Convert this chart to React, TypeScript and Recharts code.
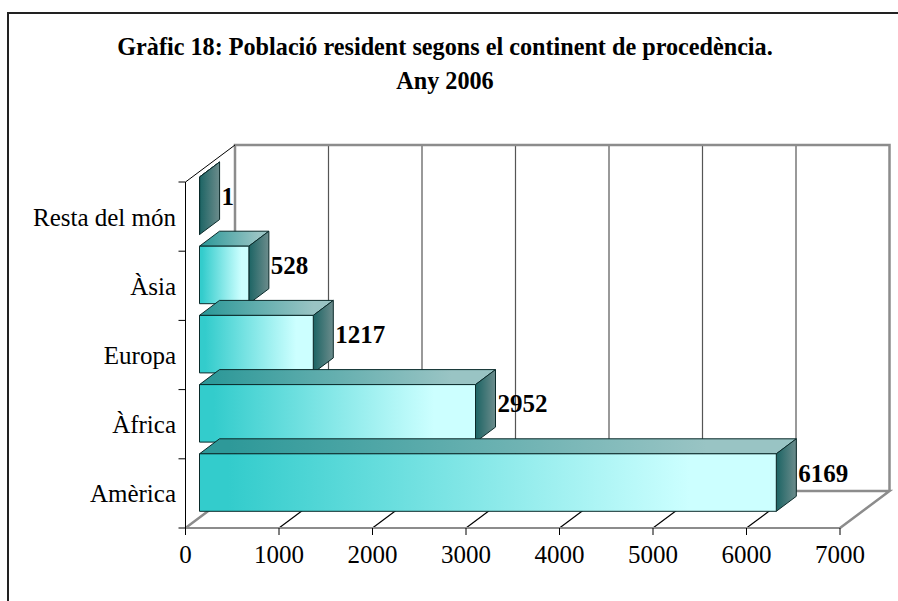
import { BarChart, Bar, XAxis, YAxis, CartesianGrid, LabelList, ReferenceArea } from "recharts"

const categories = ["Resta del món", "Àsia", "Europa", "Àfrica", "Amèrica"]
const values = [1, 528, 1217, 2952, 6169]
const xTicks = [0, 1000, 2000, 3000, 4000, 5000, 6000, 7000]
const titleLines = ["Gràfic 18: Població resident segons el continent de procedència.", "Any 2006"]

const chartData = categories.map((name, i) => ({ name, value: values[i] }))

const FONT = "'Liberation Serif', 'Times New Roman', serif"
const FONT_SIZE = 25
// fake 3D offsets: how far the back wall sits from the front, and the bars inside that
const DEPTH_X = 49.5
const DEPTH_Y = 37
const BAR_SHIFT_X = 14
const BAR_SHIFT_Y = 11
const BAR_DEPTH_X = 20
const BAR_DEPTH_Y = 15
const WALL_GREY = "#8c8c8c"

// bar with a top and a side face
function Bar3D({ x, y, width, height }: any) {
  const left = x + BAR_SHIFT_X
  const top = y - BAR_SHIFT_Y
  const right = left + width
  const bottom = top + height
  const dx = BAR_DEPTH_X
  const dy = BAR_DEPTH_Y
  return (
    <g stroke="#0a2a2a" strokeWidth={1} strokeLinejoin="round">
      <polygon
        points={`${left},${top} ${left + dx},${top - dy} ${right + dx},${top - dy} ${right},${top}`}
        fill="url(#topFace)"
      />
      <polygon
        points={`${right},${top} ${right + dx},${top - dy} ${right + dx},${bottom - dy} ${right},${bottom}`}
        fill="url(#sideFace)"
      />
      <rect x={left} y={top} width={width} height={height} fill="url(#frontFace)" />
    </g>
  )
}

// back wall and floor edges
function Walls({ x, y, width, height }: any) {
  const right = x + width
  const bottom = y + height
  return (
    <g fill="none">
      <path
        d={`M${x},${bottom} L${x + DEPTH_X},${bottom - DEPTH_Y} L${right + DEPTH_X},${bottom - DEPTH_Y} L${right},${bottom}
            M${x + DEPTH_X},${bottom - DEPTH_Y} L${x + DEPTH_X},${y - DEPTH_Y} L${right + DEPTH_X},${y - DEPTH_Y} L${right + DEPTH_X},${bottom - DEPTH_Y}`}
        stroke={WALL_GREY}
        strokeWidth={2.5}
      />
      <line x1={x} y1={y} x2={x + DEPTH_X} y2={y - DEPTH_Y} stroke="#000" strokeWidth={1} />
      <line x1={x} y1={y} x2={x} y2={bottom} stroke="#000" strokeWidth={1} />
    </g>
  )
}

// wall line plus the thin diagonal on the floor
function GridLine({ x1, y1, y2, index }: any) {
  if (index === 0 || index === xTicks.length - 1) return <g key={index} />
  return (
    <g key={index} stroke="#555" strokeWidth={1.2}>
      <line x1={x1 + DEPTH_X} y1={y1 - DEPTH_Y} x2={x1 + DEPTH_X} y2={y2 - DEPTH_Y} />
      <line x1={x1} y1={y2} x2={x1 + DEPTH_X} y2={y2 - DEPTH_Y} stroke="#000" />
    </g>
  )
}

// category label in the middle of the band, tick marks on the band edges
function CategoryTick({ x, y, payload, index }: any) {
  const band = 346 / categories.length
  return (
    <g>
      <text x={x - 9.5} y={y + 9} textAnchor="end" fontFamily={FONT} fontSize={FONT_SIZE} fill="#000">
        {payload.value}
      </text>
      <line x1={x - 7} x2={x} y1={y + band / 2} y2={y + band / 2} stroke="#000" />
      {index === 0 && <line x1={x - 7} x2={x} y1={y - band / 2} y2={y - band / 2} stroke="#000" />}
    </g>
  )
}

function ValueLabel({ x, y, width, height, value }: any) {
  return (
    <text
      x={x + width + BAR_SHIFT_X + BAR_DEPTH_X + 2}
      y={y + height / 2 - 12}
      fontFamily={FONT}
      fontSize={FONT_SIZE}
      fontWeight="bold"
      fill="#000"
    >
      {value}
    </text>
  )
}

export default function App() {
  return (
    <div style={{ position: "absolute", left: 0, top: 0, width: 898, height: 601, background: "#fff", overflow: "hidden" }}>
      <div style={{ position: "absolute", left: 7, top: 12, width: 891, height: 589, borderLeft: "2px solid #222", borderTop: "2px solid #222", boxSizing: "border-box" }} />
      <div
        style={{
          position: "absolute",
          left: 0,
          top: 30,
          width: 890,
          textAlign: "center",
          fontFamily: FONT,
          fontSize: 24.2,
          fontWeight: "bold",
          lineHeight: "34px",
        }}
      >
        {titleLines.map((line) => (
          <div key={line}>{line}</div>
        ))}
      </div>
      <div style={{ position: "absolute", left: 0, top: 0 }}>
        <BarChart
          width={898}
          height={601}
          layout="vertical"
          data={chartData}
          barSize={57.5}
          margin={{ top: 182, right: 58, bottom: 23, left: 0 }}
          style={{ overflow: "visible" }}
        >
          <defs>
            <linearGradient id="frontFace" x1="0" y1="0" x2="1" y2="0">
              <stop offset="0.05" stopColor="#33CCCC" />
              <stop offset="0.85" stopColor="#CCFFFF" />
            </linearGradient>
            <linearGradient id="topFace" x1="0" y1="0" x2="1" y2="0">
              <stop offset="0.05" stopColor="#2E9999" />
              <stop offset="0.85" stopColor="#99C4C4" />
            </linearGradient>
            <linearGradient id="sideFace" x1="0" y1="0" x2="1" y2="0">
              <stop offset="0" stopColor="#1C6464" />
              <stop offset="1" stopColor="#6C8C8C" />
            </linearGradient>
          </defs>
          <ReferenceArea x1={0} x2={7000} shape={Walls} fill="none" stroke="none" ifOverflow="visible" />
          <CartesianGrid horizontal={false} vertical={GridLine as any} />
          <XAxis
            type="number"
            domain={[0, 7000]}
            ticks={xTicks}
            height={50}
            tickSize={7}
            tickMargin={10}
            axisLine={{ stroke: WALL_GREY, strokeWidth: 2 }}
            tickLine={{ stroke: "#000" }}
            tick={{ fontFamily: FONT, fontSize: FONT_SIZE, fill: "#000" }}
            interval={0}
          />
          <YAxis
            type="category"
            dataKey="name"
            width={185.5}
            tickSize={0}
            tickMargin={0}
            axisLine={{ stroke: "#000" }}
            tickLine={false}
            tick={CategoryTick}
            interval={0}
          />
          <Bar dataKey="value" shape={Bar3D} isAnimationActive={false}>
            <LabelList dataKey="value" content={ValueLabel} />
          </Bar>
        </BarChart>
      </div>
    </div>
  )
}
